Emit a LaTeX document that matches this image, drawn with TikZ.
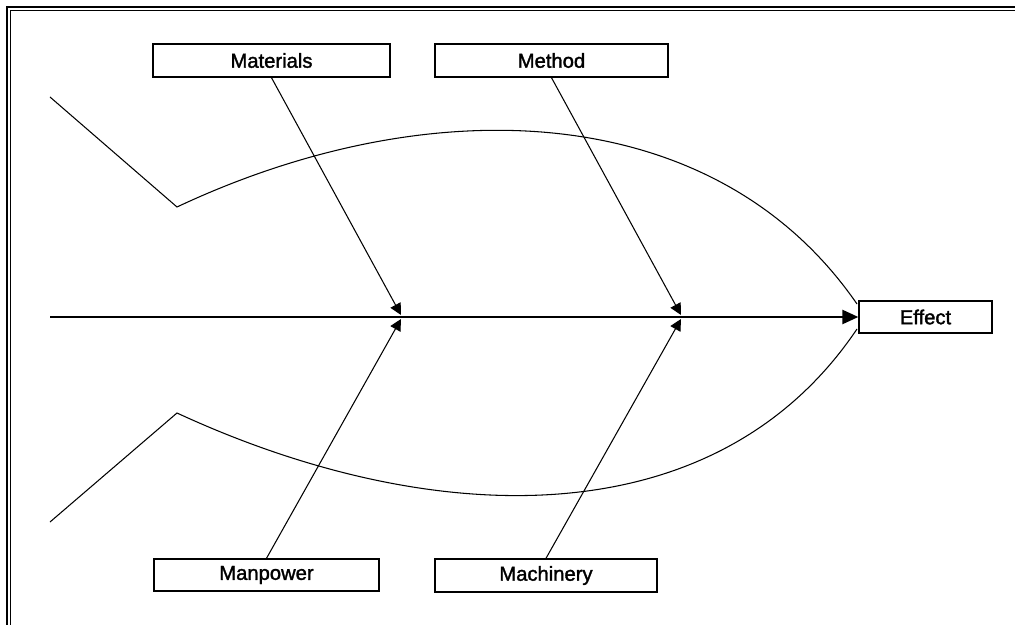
\documentclass[tikz,border=0pt]{standalone}
\usepackage{fontspec}
\setmainfont{Liberation Sans}
\newfontfamily\labelfont[FakeBold=1.6]{Liberation Sans}
\usetikzlibrary{arrows.meta}
\begin{document}
\begin{tikzpicture}[x=0.02cm,y=-0.02cm,
  cause/.style={draw, line width=0.8pt, inner sep=0pt, font=\labelfont\fontsize{11.5}{13}\selectfont},
  rib/.style={line width=0.6pt, -{Triangle[length=6.5pt,width=6.5pt]}},
  spine/.style={line width=1.1pt, -{Triangle[length=9pt,width=8pt]}},
  body/.style={line width=0.6pt}]
\useasboundingbox (0,0) rectangle (1015,625);

% frame (top and left edges only)
\draw[line width=1.2pt] (7,625) -- (7,7) -- (1015,7);
\draw[line width=0.6pt] (10.5,625) -- (10.5,10.5) -- (1015,10.5);

% cause boxes and effect box
\node[cause, minimum width=237*0.02cm, minimum height=33*0.02cm] (mat) at (271.5,60.5) {Materials};
\node[cause, minimum width=233*0.02cm, minimum height=33*0.02cm] (met) at (551.5,60.5) {Method};
\node[cause, minimum width=225*0.02cm, minimum height=32*0.02cm] (man) at (266.5,575) {Manpower};
\node[cause, minimum width=222*0.02cm, minimum height=33*0.02cm] (mac) at (546,575.5) {Machinery};
\node[cause, minimum width=133*0.02cm, minimum height=32*0.02cm] (eff) at (925.5,317) {Effect};

% fish outline
\coordinate (ut) at (50,97);
\coordinate (uv) at (177,207);
\coordinate (lt) at (50,522);
\coordinate (lv) at (177,413);
\coordinate (hu) at (857,304);
\coordinate (hl) at (857,329);
\draw[body] (ut) -- (uv) .. controls (430,88) and (715,98) .. (hu);
\draw[body] (lt) -- (lv) .. controls (430,530) and (715,540) .. (hl);

% spine
\coordinate (tail) at (50,317);
\draw[spine] (tail) -- (eff.west);

% ribs meeting the spine
\coordinate (j1u) at (401,315);
\coordinate (j1d) at (401,319);
\coordinate (j2u) at (681,315);
\coordinate (j2d) at (681,319);
\draw[rib] (mat.south) -- (j1u);
\draw[rib] (man.north) -- (j1d);
\draw[rib] (met.south) -- (j2u);
\draw[rib] (mac.north) -- (j2d);
\end{tikzpicture}
\end{document}
